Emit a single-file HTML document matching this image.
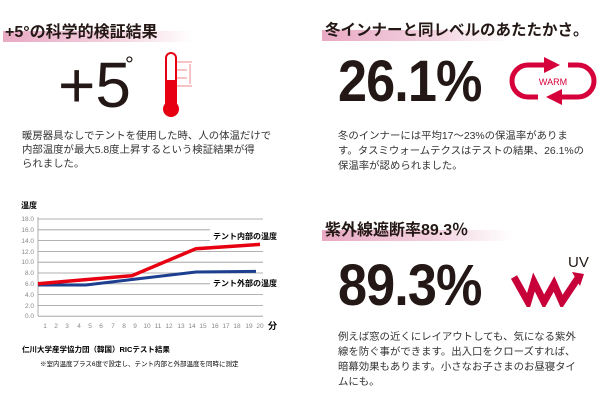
<!DOCTYPE html>
<html><head><meta charset="utf-8"><style>
body{margin:0;width:600px;height:405px;background:#fff;position:relative;overflow:hidden;font-family:"Liberation Sans","Noto Sans CJK JP",sans-serif;color:#231815}
.a{position:absolute;white-space:nowrap}
.bar{position:absolute;height:11px;background:linear-gradient(90deg,#e9a9c3,#f3d3e0 60%,rgba(255,255,255,0))}
.t{font-weight:bold;font-size:16px}
.p{font-size:10.4px;line-height:14px;color:#333}
.big{font-size:58px;letter-spacing:-1px;font-weight:bold;transform:scaleX(0.9);transform-origin:0 0}
</style></head><body>
<div class="bar" style="left:3px;top:31px;width:190px"></div>
<div class="a t" style="left:5px;top:18px">+5°の科学的検証結果</div>
<div class="a" style="left:58px;top:48px;font-size:64px;font-weight:300">+5</div>
<div class="a" style="left:125px;top:52px;font-size:22px">°</div>
<svg class="a" style="left:160px;top:50px" width="40" height="70">
<rect x="6" y="3" width="10" height="55" rx="5" fill="#fff" stroke="#e60012" stroke-width="2"/>
<rect x="7" y="30" width="8" height="28" fill="#e60012"/><circle cx="11" cy="59" r="8" fill="#e60012"/>
<g stroke="#e88" stroke-width="1"><line x1="17" y1="12" x2="32" y2="12"/><line x1="17" y1="20" x2="27" y2="20"/><line x1="17" y1="28" x2="27" y2="28"/><line x1="17" y1="36" x2="32" y2="36"/><line x1="30" y1="14" x2="30" y2="34"/></g></svg>
<div class="a p" style="left:22px;top:130px">暖房器具なしでテントを使用した時、人の体温だけで<br>内部温度が最大5.8度上昇するという検証結果が得<br>られました。</div>
<svg class="a" style="left:0;top:195px" width="300" height="175" font-family="Liberation Sans,Noto Sans CJK JP,sans-serif">
<text x="21" y="13" font-size="8" font-weight="bold">温度</text>
<g stroke="#999" stroke-width="0.8">
<line x1="38" y1="24" x2="263" y2="24"/><line x1="38" y1="34.8" x2="263" y2="34.8"/><line x1="38" y1="45.6" x2="263" y2="45.6"/><line x1="38" y1="56.4" x2="263" y2="56.4"/><line x1="38" y1="67.2" x2="263" y2="67.2"/><line x1="38" y1="78" x2="263" y2="78"/><line x1="38" y1="88.8" x2="263" y2="88.8"/><line x1="38" y1="99.6" x2="263" y2="99.6"/><line x1="38" y1="110.4" x2="263" y2="110.4"/><line x1="38" y1="121.2" x2="263" y2="121.2"/>
<line x1="38" y1="22" x2="38" y2="121"/></g>
<g font-size="6.5" fill="#888" text-anchor="end">
<text x="34" y="26">18.0</text><text x="34" y="37">16.0</text><text x="34" y="48">14.0</text><text x="34" y="59">12.0</text><text x="34" y="69">10.0</text><text x="34" y="80">8.0</text><text x="34" y="91">6.0</text><text x="34" y="102">4.0</text><text x="34" y="113">2.0</text><text x="34" y="123">0.0</text></g>
<g font-size="6.5" fill="#888" text-anchor="middle">
<text x="45" y="133">1</text><text x="56" y="133">2</text><text x="67" y="133">3</text><text x="79" y="133">4</text><text x="90" y="133">5</text><text x="101" y="133">6</text><text x="113" y="133">7</text><text x="124" y="133">8</text><text x="135" y="133">9</text><text x="147" y="133">10</text><text x="158" y="133">11</text><text x="169" y="133">12</text><text x="181" y="133">13</text><text x="192" y="133">14</text><text x="203" y="133">15</text><text x="215" y="133">16</text><text x="226" y="133">17</text><text x="237" y="133">18</text><text x="249" y="133">19</text><text x="260" y="133">20</text></g>
<text x="268" y="134" font-size="9" font-weight="bold">分</text>
<polyline points="38,90 86,90 132,84.5 196,77 256,76.4" fill="none" stroke="#1d3f8f" stroke-width="3"/>
<polyline points="38,88.8 132,80.7 196,53.7 260,49.4" fill="none" stroke="#e60012" stroke-width="3.5"/>
<rect x="210" y="34" width="75" height="12" fill="#fff"/><rect x="210" y="82" width="75" height="12" fill="#fff"/>
<text x="213" y="44" font-size="8" font-weight="bold">テント内部の温度</text>
<text x="213" y="91" font-size="8" font-weight="bold">テント外部の温度</text>
<text x="22" y="157" font-size="7.5" font-weight="bold">仁川大学産学協力団（韓国）RICテスト結果</text>
<text x="40" y="171" font-size="6.5">※室内温度プラス6度で設定し、テント内部と外部温度を同時に測定</text>
</svg>
<div class="bar" style="left:322px;top:30px;width:190px"></div>
<div class="a t" style="left:325px;top:18px;font-size:15.5px">冬インナーと同レベルのあたたかさ。</div>
<div class="a big" style="left:338px;top:48px">26.1%</div>
<svg class="a" style="left:508px;top:57px" width="90" height="48">
<path d="M38 8 H20 A16 16 0 0 0 20 40 H30" fill="none" stroke="#d6003a" stroke-width="5"/>
<path d="M52 40 H70 A16 16 0 0 0 70 8 H60" fill="none" stroke="#d6003a" stroke-width="5"/>
<polygon points="36,0 52,8 36,16" fill="#d6003a"/><polygon points="54,32 38,40 54,48" fill="#d6003a"/>
<text x="45" y="28" font-size="9" fill="#d6003a" text-anchor="middle">WARM</text></svg>
<div class="a p" style="left:338px;top:129px;line-height:15px">冬のインナーには平均17〜23%の保温率がありま<br>す。タスミウォームテクスはテストの結果、26.1%の<br>保温率が認められました。</div>
<div class="bar" style="left:322px;top:230px;width:190px"></div>
<div class="a t" style="left:325px;top:216px">紫外線遮断率89.3％</div>
<div class="a big" style="left:338px;top:252px">89.3%</div>
<svg class="a" style="left:510px;top:262px" width="90" height="45">
<path d="M4 15 L18 40 L24 20 L34 40 L44 22 L52 40 L68 16" fill="none" stroke="#c8003a" stroke-width="7"/>
<polygon points="62,10 74,12 70,24" fill="#c8003a"/></svg>
<div class="a" style="left:568px;top:254px;font-size:15px">UV</div>
<div class="a p" style="left:338px;top:330px;line-height:15px">例えば窓の近くにレイアウトしても、気になる紫外<br>線を防ぐ事ができます。出入口をクローズすれば、<br>暗幕効果もあります。小さなお子さまのお昼寝タイ<br>ムにも。</div>
</body></html>
